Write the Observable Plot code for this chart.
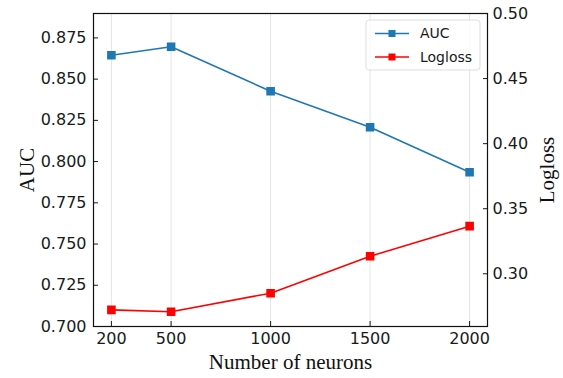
<!DOCTYPE html>
<html><head><meta charset="utf-8">
<script src="https://cdn.jsdelivr.net/npm/d3@7"></script>
<script src="https://cdn.jsdelivr.net/npm/@observablehq/plot@0.6"></script>
<style>body{margin:0;background:#fff}#chart{width:563px;height:378px}</style>
</head><body><div id="chart"></div>
<script>
const neurons = [200, 500, 1000, 1500, 2000];
const auc = [0.8645, 0.8696, 0.8427, 0.8208, 0.7935];
const logloss = [0.2723, 0.2708, 0.2851, 0.3135, 0.3366];
const aucTicks = [0.700, 0.725, 0.750, 0.775, 0.800, 0.825, 0.850, 0.875];
const loglossTicks = [0.30, 0.35, 0.40, 0.45, 0.50];
const aucDomain = [0.700, 0.8898];
const loglossDomain = [0.2595, 0.50];
const xDomain = [110, 2090];
const seriesNames = ["AUC", "Logloss"];
const seriesColors = ["#1f77b4", "#ff0000"];

const toAuc = d3.scaleLinear(loglossDomain, aucDomain);
const data = neurons.map((n, i) => ({n, auc: auc[i], ll: logloss[i], llY: toAuc(logloss[i])}));

const serif = "'Liberation Serif', 'Times New Roman', serif";
const svg = Plot.plot({
  width: 563, height: 378,
  marginLeft: 93, marginRight: 76, marginTop: 13, marginBottom: 52,
  style: {fontFamily: "'DejaVu Sans', sans-serif", fontSize: "16px", color: "#1a1a1a", background: "#fff"},
  x: {domain: xDomain},
  y: {domain: aucDomain},
  marks: [
    Plot.gridX(neurons, {stroke: "#bbb", strokeOpacity: 0.5, strokeWidth: 0.8}),
    Plot.axisX(neurons, {tickSize: 5, insetBottom: 5, tickPadding: 6, tickFormat: d => String(d), label: null}),
    Plot.axisY(aucTicks, {anchor: "left", tickSize: 5, insetLeft: 5, tickPadding: 7, tickFormat: d3.format(".3f"), label: null}),
    Plot.axisY(loglossTicks.map(toAuc), {anchor: "right", tickSize: 5, insetRight: 5, tickPadding: 5, tickFormat: d => d3.format(".2f")(toAuc.invert(d)), label: null}),
    Plot.frame({stroke: "#111", strokeWidth: 1.2}),
    Plot.line(data, {x: "n", y: "auc", stroke: seriesColors[0], strokeWidth: 1.6}),
    Plot.dot(data, {x: "n", y: "auc", symbol: "square", fill: seriesColors[0], stroke: seriesColors[0], r: 4}),
    Plot.line(data, {x: "n", y: "llY", stroke: seriesColors[1], strokeWidth: 1.6}),
    Plot.dot(data, {x: "n", y: "llY", symbol: "square", fill: seriesColors[1], stroke: seriesColors[1], r: 4}),
    Plot.text(["AUC"], {frameAnchor: "left", dx: -66, rotate: -90, textAnchor: "middle", lineAnchor: "middle", fontFamily: serif, fontSize: 21, fill: "#111"}),
    Plot.text(["Logloss"], {frameAnchor: "right", dx: 60, rotate: -90, textAnchor: "middle", lineAnchor: "middle", fontFamily: serif, fontSize: 21, fill: "#111"}),
    Plot.text(["Number of neurons"], {frameAnchor: "bottom", dy: 36, lineAnchor: "middle", fontFamily: serif, fontSize: 21, fill: "#111"})
  ]
});
document.getElementById("chart").appendChild(svg);

// legend
const g = d3.select(svg).append("g").attr("font-family", "'DejaVu Sans', sans-serif").attr("font-size", 14).attr("text-anchor", "start");
g.append("rect").attr("x", 366).attr("y", 20).attr("width", 114).attr("height", 50).attr("rx", 3)
  .attr("fill", "#fff").attr("fill-opacity", 0.8).attr("stroke", "#ddd");
seriesNames.forEach((name, i) => {
  const y = 33.5 + i * 23.5;
  g.append("line").attr("x1", 375).attr("x2", 409).attr("y1", y).attr("y2", y).attr("stroke", seriesColors[i]).attr("stroke-width", 1.6);
  g.append("rect").attr("x", 388.5).attr("y", y - 3.5).attr("width", 7).attr("height", 7).attr("fill", seriesColors[i]);
  g.append("text").attr("x", 420).attr("y", y).attr("dy", "0.35em").attr("text-anchor", "start").attr("fill", "#1a1a1a").text(name);
});
</script></body></html>
